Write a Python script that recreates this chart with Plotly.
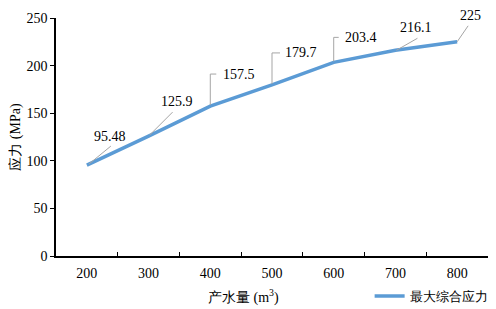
import plotly.graph_objects as go

categories = ["200", "300", "400", "500", "600", "700", "800"]
stress = [95.48, 125.9, 157.5, 179.7, 203.4, 216.1, 225]
labels = ["95.48", "125.9", "157.5", "179.7", "203.4", "216.1", "225"]
series_name = "最大综合应力"
x_title = "产水量 (m<sup>3</sup>)"
y_title = "应力 (MPa)"

# label placement (pixels, relative to each point)
text_dx = [23, 28, 11, 11, 9, 21, 13]
text_dy = [29, 35, 32, 32, 25, 23, 26]
text_anchor = ["center", "center", "left", "left", "left", "center", "center"]
leader_paths = [
    "M2,1 L24,19",
    "M1,1 L24,24",
    "M0,1 L0,32 L6,32",
    "M0,1 L0,32 L8,32",
    "M0,1 L0,25 L5,25",
    "M1,0 L22,12",
    "M0,0 L11,16",
]

FONT = "Liberation Serif"

fig = go.Figure()
fig.add_trace(go.Scatter(
    x=categories, y=stress, mode="lines", name=series_name,
    line=dict(color="#5B9BD5", width=3.5),
))

for i, (c, v, t) in enumerate(zip(categories, stress, labels)):
    fig.add_shape(type="path", xref="x", yref="y",
                  xsizemode="pixel", ysizemode="pixel",
                  xanchor=i, yanchor=v, path=leader_paths[i],
                  line=dict(color="#A5A5A5", width=1))
    fig.add_annotation(x=i, y=v, text=t, showarrow=False,
                       xanchor=text_anchor[i], yanchor="middle",
                       xshift=text_dx[i], yshift=text_dy[i],
                       font=dict(family=FONT, size=14, color="#000000"))

# x-axis title
fig.add_annotation(x=0.433, y=0, xref="paper", yref="paper", text=x_title,
                   showarrow=False, xanchor="center", yanchor="middle", yshift=-40,
                   font=dict(family=FONT, size=14, color="#000000"))

fig.update_layout(
    width=488, height=301,
    margin=dict(l=48, r=8, t=10, b=53),
    paper_bgcolor="white", plot_bgcolor="white",
    font=dict(family=FONT, size=14, color="#000000"),
    showlegend=True,
    legend=dict(orientation="h", x=0.726, xanchor="left",
                yref="container", y=0.043, yanchor="middle",
                font=dict(family=FONT, size=13), bgcolor="rgba(0,0,0,0)"),
    xaxis=dict(type="category", range=[-0.5, 6.5], showgrid=False, automargin=False,
               showline=True, linecolor="#000000", linewidth=1.5,
               ticks="inside", ticklen=4, tickcolor="#000000", tickson="boundaries",
               ticklabelstandoff=3),
    yaxis=dict(range=[0, 250], dtick=50, showgrid=False, automargin=False,
               showline=True, linecolor="#000000", linewidth=1.5,
               ticks="outside", ticklen=4, tickcolor="#000000",
               title=dict(text=y_title, standoff=8,
                          font=dict(family=FONT, size=14))),
)

fig.write_html("out.html")
